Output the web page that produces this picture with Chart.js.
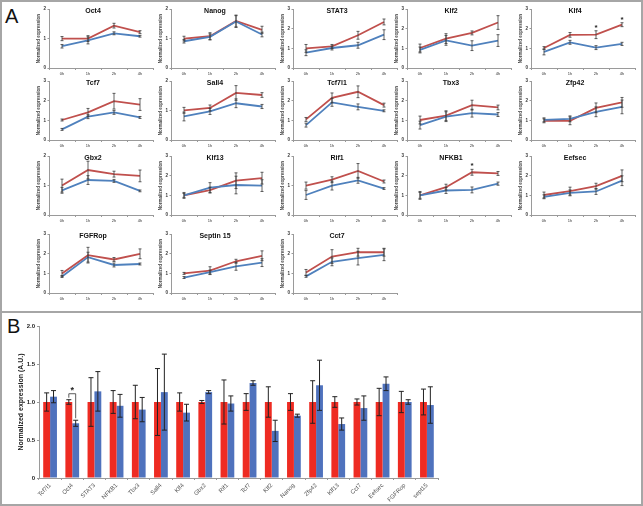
<!DOCTYPE html>
<html lang="en">
<head>
<meta charset="UTF-8">
<title>Time course and normalized expression</title>
<style>
  * { box-sizing: border-box; margin: 0; padding: 0; }
  body { width: 643px; height: 506px; background: #fff; position: relative; overflow: hidden;
         font-family: "Liberation Sans", Arial, sans-serif; }
  .frame { position: absolute; border: 2px solid #a6a6a6; }
  .plabel { position: absolute; font-size: 20px; color: #111; line-height: 1; }
  canvas { position: absolute; display: block; }
</style>
</head>
<body>
<div class="frame" style="left:0;top:0;width:643px;height:313px"></div>
<div class="frame" style="left:0;top:311px;width:643px;height:195px"></div>
<div class="plabel" style="left:5px;top:6px">A</div>
<div class="plabel" style="left:7px;top:316px">B</div>

<script src="https://cdn.jsdelivr.net/npm/chart.js@4.4.1/dist/chart.umd.min.js"></script>
<script>
// ---- panel A data ----
const times = ['0h','1h','2h','4h'];
const genesA = ['Oct4','Nanog','STAT3','Klf2','Klf4',
                'Tcf7','Sall4','Tcf7l1','Tbx3','Zfp42',
                'Gbx2','Klf13','Rif1','NFKB1','Eefsec',
                'FGFRop','Septin 15','Cct7'];
const yMaxA = [2,2,3,3,3, 3,2,3,3,3, 2,3,2,3,3, 3,3,3];
const redA = [
  [1.0,1.0,1.44,1.22],[1.0,1.08,1.6,1.3],[1.0,1.1,1.67,2.35],[1.02,1.5,1.79,2.32],[1.02,1.69,1.7,2.21],
  [1.02,1.41,1.98,1.81],[1.01,1.09,1.6,1.53],[1.05,2.15,2.46,1.78],[1.02,1.24,1.78,1.66],[0.98,0.98,1.64,1.92],
  [1.0,1.53,1.39,1.33],[1.0,1.27,1.75,1.88],[1.0,1.2,1.5,1.14],[1.0,1.42,2.18,2.12],[1.02,1.22,1.47,2.0],
  [1.0,1.93,1.71,2.0],[1.0,1.14,1.62,1.9],[1.05,1.86,2.08,2.08]
];
const redErrA = [
  [0.07,0.1,0.08,0.05],[0.08,0.12,0.2,0.12],[0.2,0.1,0.2,0.15],[0.2,0.25,0.1,0.35],[0.07,0.12,0.2,0.1],
  [0.05,0.2,0.4,0.3],[0.1,0.1,0.25,0.08],[0.1,0.25,0.3,0.1],[0.2,0.25,0.25,0.12],[0.1,0.2,0.25,0.25],
  [0.22,0.3,0.1,0.2],[0.15,0.15,0.4,0.3],[0.12,0.1,0.25,0.05],[0.2,0.15,0.15,0.1],[0.15,0.2,0.15,0.3],
  [0.15,0.4,0.1,0.25],[0.05,0.2,0.1,0.25],[0.15,0.35,0.2,0.2]
];
const blueA = [
  [0.74,0.94,1.18,1.08],[0.91,1.06,1.58,1.14],[0.78,1.02,1.16,1.7],[0.92,1.41,1.14,1.4],[0.82,1.31,1.04,1.23],
  [0.54,1.19,1.41,1.15],[0.8,0.97,1.25,1.14],[0.76,1.92,1.69,1.49],[0.76,1.19,1.37,1.3],[1.03,1.08,1.44,1.69],
  [0.84,1.19,1.16,0.82],[1.0,1.4,1.53,1.5],[0.68,1.0,1.18,0.9],[1.0,1.25,1.28,1.6],[0.93,1.13,1.2,1.75],
  [0.84,1.83,1.43,1.48],[0.79,1.07,1.36,1.55],[0.85,1.59,1.78,1.95]
];
const blueErrA = [
  [0.06,0.12,0.05,0.03],[0.06,0.1,0.2,0.08],[0.15,0.1,0.15,0.25],[0.15,0.25,0.25,0.3],[0.15,0.1,0.1,0.08],
  [0.05,0.1,0.1,0.05],[0.15,0.1,0.15,0.07],[0.1,0.2,0.15,0.05],[0.2,0.25,0.2,0.1],[0.1,0.15,0.25,0.35],
  [0.1,0.15,0.05,0.03],[0.1,0.25,0.45,0.3],[0.15,0.15,0.1,0.03],[0.15,0.15,0.15,0.08],[0.1,0.15,0.15,0.25],
  [0.05,0.25,0.1,0.05],[0.05,0.1,0.2,0.2],[0.05,0.2,0.35,0.3]
];
// significant points on the red curve (time index)
const starsA = { 'Klf4': [2,3], 'NFKB1': [2] };

// ---- panel B data ----
const genesB = ['Tcf7l1','Oct4','STAT3','NFKB1','Tbx3','Sall4','Klf4','Gbx2','Rif1','Tcf7',
                'Klf2','Nanog','Zfp42','Klf13','Cct7','Eefsec','FGFRop','sept15'];
const redB    = [1,1,1,1,1,1,1,1,1,1,1,1,1,1,1,1,1,1];
const redErrB = [0.12,0.03,0.32,0.15,0.22,0.44,0.12,0.02,0.29,0.11,0.2,0.11,0.28,0.07,0.04,0.18,0.14,0.17];
const blueB    = [1.07,0.72,1.14,0.95,0.9,1.13,0.86,1.13,0.98,1.25,0.62,0.82,1.22,0.71,0.92,1.24,1.0,0.96];
const blueErrB = [0.08,0.04,0.26,0.15,0.16,0.5,0.11,0.02,0.1,0.03,0.14,0.02,0.33,0.08,0.16,0.09,0.03,0.24];
const sigB = [1];

// ---- layout ----
const colX = [49,171,293,407,531];
const rowTop = [9,81,156,234];
const RED_L = '#c0504d', BLUE_L = '#4f81bd';
const RED_B = '#ee2b22', BLUE_B = '#4f72bd';

Chart.defaults.font.family = '"Liberation Sans", Arial, sans-serif';
Chart.defaults.animation = false;

// error bars + stars drawn from the chart's own scales
const errBars = {
  id: 'errBars',
  afterDatasetsDraw(chart) {
    const ctx = chart.ctx, ys = chart.scales.y;
    ctx.save();
    chart.data.datasets.forEach((ds, di) => {
      if (!ds.errors) return;
      const meta = chart.getDatasetMeta(di);
      ctx.strokeStyle = ds.errColor || '#3a3a3a';
      ctx.lineWidth = ds.errWidth || 0.8;
      const cap = ds.capW || 1.5;
      meta.data.forEach((el, i) => {
        const v = ds.data[i], e = ds.errors[i];
        const x = el.x, y1 = ys.getPixelForValue(v + e), y2 = ys.getPixelForValue(v - e);
        ctx.beginPath();
        ctx.moveTo(x, y1); ctx.lineTo(x, y2);
        ctx.moveTo(x - cap, y1); ctx.lineTo(x + cap, y1);
        ctx.moveTo(x - cap, y2); ctx.lineTo(x + cap, y2);
        ctx.stroke();
        if (ds.stars && ds.stars.includes(i)) {
          ctx.fillStyle = '#222';
          ctx.font = 'bold 8px "Liberation Sans", Arial';
          ctx.textAlign = 'center';
          ctx.fillText('*', x, y1 - 1);
        }
      });
    });
    ctx.restore();
  }
};

// title placed inside the plot, like the original figure
const innerTitle = {
  id: 'innerTitle',
  afterDraw(chart, args, opts) {
    if (!opts.text) return;
    const ctx = chart.ctx, a = chart.chartArea;
    ctx.save();
    ctx.fillStyle = '#111';
    ctx.font = 'bold 7px "Liberation Sans", Arial';
    ctx.textAlign = 'center';
    ctx.textBaseline = 'middle';
    ctx.fillText(opts.text, a.left + 44, a.top + 2);
    ctx.restore();
  }
};

genesA.forEach((g, k) => {
  const col = k % 5, row = Math.floor(k / 5);
  const cv = document.createElement('canvas');
  const W = 121, H = 72;
  cv.width = W; cv.height = H;
  cv.style.left = (colX[col] - 13) + 'px';
  cv.style.top = (rowTop[row] - 4) + 'px';
  document.body.appendChild(cv);
  new Chart(cv, {
    type: 'line',
    data: {
      labels: times,
      datasets: [
        { label: 'blue', data: blueA[k], errors: blueErrA[k], borderColor: BLUE_L, borderWidth: 1.8,
          pointRadius: 0, tension: 0 },
        { label: 'red', data: redA[k], errors: redErrA[k], stars: starsA[g] || [], borderColor: RED_L,
          borderWidth: 1.8, pointRadius: 0, tension: 0 }
      ]
    },
    options: {
      responsive: false,
      layout: { padding: { top: 4, right: 4, left: 0, bottom: 0 } },
      plugins: { legend: { display: false }, tooltip: { enabled: false }, innerTitle: { text: g } },
      scales: {
        x: {
          offset: true,
          grid: { offset: true, drawOnChartArea: false, tickLength: 2, color: '#9a9a9a' },
          border: { color: '#9a9a9a' },
          ticks: { font: { size: 4 }, color: '#333', padding: 1.5, maxRotation: 0 },
          afterFit: s => { s.height = 9; }
        },
        y: {
          min: 0, max: yMaxA[k],
          grid: { drawOnChartArea: false, tickLength: 1.5, color: '#9a9a9a' },
          border: { color: '#9a9a9a' },
          ticks: { stepSize: 1, font: { size: 4.5, weight: 'bold' }, color: '#333', padding: 1.5 },
          title: { display: true, text: 'Normalized expression', font: { size: 4.5, weight: 'bold' },
                   color: '#444', padding: 0 },
          afterFit: s => { s.width = 13; }
        }
      }
    },
    plugins: [errBars, innerTitle]
  });
});

// ---- panel B ----
const sigBracket = {
  id: 'sigBracket',
  afterDatasetsDraw(chart) {
    const ctx = chart.ctx, ys = chart.scales.y;
    const mr = chart.getDatasetMeta(0), mb = chart.getDatasetMeta(1);
    ctx.save();
    ctx.strokeStyle = '#333'; ctx.lineWidth = 0.8;
    sigB.forEach(i => {
      const xr = mr.data[i].x, xb = mb.data[i].x;
      const yTop = ys.getPixelForValue(redB[i] + redErrB[i]) - 6;
      const yr = ys.getPixelForValue(redB[i] + redErrB[i]) - 2;
      const yb = ys.getPixelForValue(blueB[i] + blueErrB[i]) - 2;
      ctx.beginPath();
      ctx.moveTo(xr, yr); ctx.lineTo(xr, yTop); ctx.lineTo(xb, yTop); ctx.lineTo(xb, yb);
      ctx.stroke();
      ctx.fillStyle = '#222';
      ctx.font = 'bold 9px "Liberation Sans", Arial';
      ctx.textAlign = 'center';
      ctx.fillText('*', (xr + xb) / 2, yTop - 1);
    });
    ctx.restore();
  }
};

const cb = document.createElement('canvas');
cb.width = 436; cb.height = 186;
cb.style.left = '8px'; cb.style.top = '318px';
document.body.appendChild(cb);
new Chart(cb, {
  type: 'bar',
  data: {
    labels: genesB,
    datasets: [
      { label: 'red', data: redB, errors: redErrB, backgroundColor: RED_B, errColor: '#222', errWidth: 1, capW: 2.5,
        categoryPercentage: 0.62, barPercentage: 1 },
      { label: 'blue', data: blueB, errors: blueErrB, backgroundColor: BLUE_B, errColor: '#222', errWidth: 1, capW: 2.5,
        categoryPercentage: 0.62, barPercentage: 1 }
    ]
  },
  options: {
    responsive: false,
    layout: { padding: { top: 8, right: 6, left: 7, bottom: 0 } },
    plugins: { legend: { display: false }, tooltip: { enabled: false } },
    scales: {
      x: {
        grid: { offset: true, drawOnChartArea: false, tickLength: 2, color: '#9a9a9a' },
        border: { color: '#9a9a9a' },
        ticks: { font: { size: 6 }, color: '#555', minRotation: 45, maxRotation: 45, padding: 2, autoSkip: false },
        afterFit: s => { s.height = 26; }
      },
      y: {
        min: 0, max: 2,
        grid: { drawOnChartArea: false, tickLength: 2, color: '#9a9a9a' },
        border: { color: '#9a9a9a' },
        ticks: { stepSize: 0.5, font: { size: 6, weight: 'bold' }, color: '#222', padding: 2 },
        title: { display: true, text: 'Normalized expression (A.U.)', font: { size: 7, weight: 'bold' },
                 color: '#222', padding: 2 },
        afterFit: s => { s.width = 24; }
      }
    }
  },
  plugins: [errBars, sigBracket]
});
</script>
</body>
</html>
